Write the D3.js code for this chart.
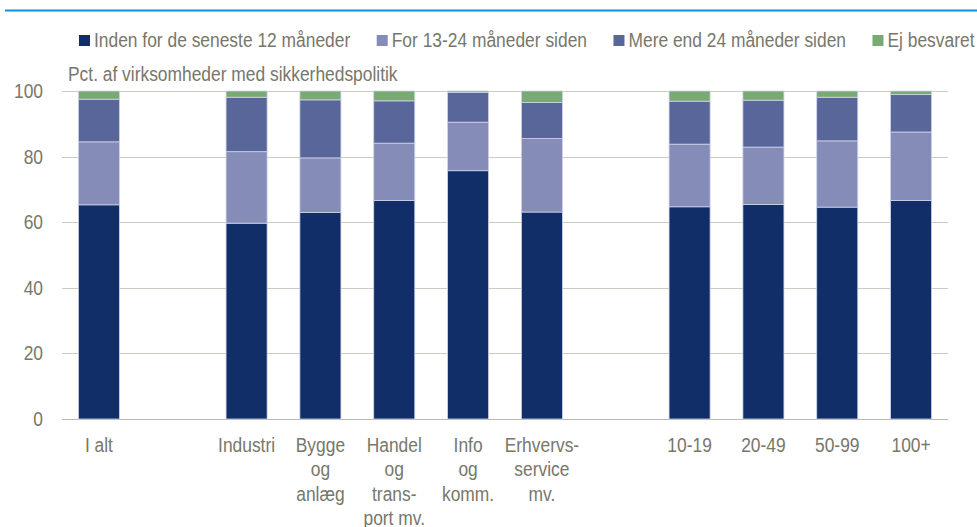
<!DOCTYPE html>
<html>
<head>
<meta charset="utf-8">
<script src="https://cdn.jsdelivr.net/npm/d3@7"></script>
<style>
  html, body { margin: 0; padding: 0; background: #fff; }
  svg { display: block; }
  text { font-family: 'Liberation Sans Narrow', 'Arial Narrow', 'Liberation Sans', sans-serif; fill: #77776b; }
</style>
</head>
<body>
<svg id="chart" width="977" height="527"></svg>
<script>
// Categories (blank slots separate the groups)
const categories = ["I alt", "_gap1", "Industri", "Bygge og anlæg", "Handel og transport mv.",
  "Info og komm.", "Erhvervsservice mv.", "_gap2", "10-19", "20-49", "50-99", "100+"];
// Multi-line tick labels for each category
const tickLabels = [["I alt"], [], ["Industri"], ["Bygge", "og", "anlæg"], ["Handel", "og", "trans-", "port mv."],
  ["Info", "og", "komm."], ["Erhvervs-", "service", "mv."], [], ["10-19"], ["20-49"], ["50-99"], ["100+"]];

const seriesNames = ["Inden for de seneste 12 måneder", "For 13-24 måneder siden",
  "Mere end 24 måneder siden", "Ej besvaret"];
const seriesColors = ["#112e69", "#858cb7", "#58669a", "#79aa73"];

// Percent of firms, per category (null = empty slot)
const within12 = [65.3, null, 59.7, 63.0, 66.6, 75.7, 63.1, null, 64.7, 65.4, 64.6, 66.6];
const months13to24 = [19.2, null, 21.8, 16.6, 17.5, 14.8, 22.4, null, 19.1, 17.5, 20.2, 20.9];
const over24 = [13.0, null, 16.6, 17.7, 12.9, 9.1, 11.0, null, 13.1, 14.3, 13.3, 11.4];
const notAnswered = [2.5, null, 1.9, 2.7, 3.0, 0.4, 3.5, null, 3.1, 2.8, 1.9, 1.1];

const yTicks = [0, 20, 40, 60, 80, 100];
const subtitle = "Pct. af virksomheder med sikkerhedspolitik";

const svg = d3.select("#chart");
const NARROW = 0.87; // horizontal squeeze for a condensed look

// Places a condensed text group at (px, py); returns the text selection
function label(parent, px, py, anchor) {
  return parent.append("g")
    .attr("transform", `translate(${px},${py}) scale(${NARROW},1)`)
    .append("text").attr("x", 0).attr("y", 0)
    .attr("text-anchor", anchor || "start").attr("font-size", 20);
}

// Top rule
svg.append("line")
  .attr("x1", 5).attr("x2", 977).attr("y1", 10.5).attr("y2", 10.5)
  .attr("stroke", "#0a95da").attr("stroke-width", 2);

const x = d3.scaleBand().domain(categories).range([62, 948]).paddingInner(0.444).paddingOuter(0.222);
const y = d3.scaleLinear().domain([0, 100]).range([419, 91]);

// Gridlines
svg.append("g").selectAll("line").data(yTicks).join("line")
  .attr("x1", 62).attr("x2", 948)
  .attr("y1", d => Math.round(y(d)) + 0.5).attr("y2", d => Math.round(y(d)) + 0.5)
  .attr("stroke", d => d === 0 ? "#b9b9b0" : "#cbcbc0").attr("stroke-width", 1);

// Y tick labels
const yl = svg.append("g");
yTicks.forEach(d => {
  label(yl, 43, y(d), "end").attr("dy", "0.35em").text(d);
});

// Stacked data
const rows = categories.map((c, i) => ({
  cat: c,
  s0: within12[i], s1: months13to24[i], s2: over24[i], s3: notAnswered[i]
})).filter(r => r.s0 !== null);
const keys = ["s0", "s1", "s2", "s3"];
const stacked = d3.stack().keys(keys)(rows);

svg.append("g").selectAll("g").data(stacked).join("g")
  .attr("fill", (d, i) => seriesColors[i])
  .selectAll("rect").data(d => d).join("rect")
  .attr("x", d => x(d.data.cat))
  .attr("width", x.bandwidth())
  .attr("y", d => y(d[1]))
  .attr("height", d => y(d[0]) - y(d[1]))
  .attr("stroke", "#cfd3ea").attr("stroke-width", 0.8);

// X tick labels
const xl = svg.append("g");
categories.forEach((c, i) => {
  if (!tickLabels[i].length) return;
  const t = label(xl, x(c) + x.bandwidth() / 2, 452, "middle");
  tickLabels[i].forEach((line, j) => {
    t.append("tspan").attr("x", 0).attr("dy", j === 0 ? 0 : 24.5).text(line);
  });
});

// Subtitle
label(svg, 68, 81).text(subtitle);

// Legend
const legend = svg.append("g");
let lx = 79;
seriesNames.forEach((name, i) => {
  legend.append("rect").attr("x", lx).attr("y", 35).attr("width", 11).attr("height", 11)
    .attr("fill", seriesColors[i]);
  const t = label(legend, lx + 15, 47).text(name);
  lx += 15 + t.node().getComputedTextLength() * NARROW + 26.5;
});
</script>
</body>
</html>
